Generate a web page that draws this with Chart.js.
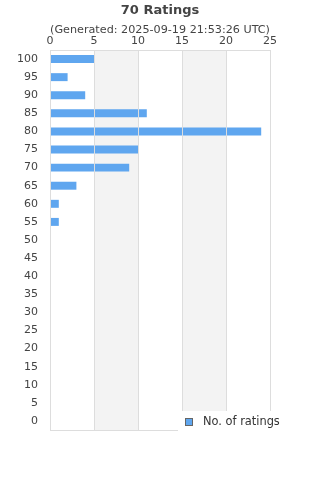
<!DOCTYPE html>
<html><head><meta charset="utf-8">
<script src="https://cdn.jsdelivr.net/npm/chart.js@4/dist/chart.umd.min.js"></script>
<style>html,body{margin:0;padding:0;background:#fff}#wrap{width:320px;height:480px;position:relative}</style>
</head><body><div id="wrap"><canvas id="c" width="320" height="480"></canvas></div>
<script>
const titleText = '70 Ratings';
const subtitleText = '(Generated: 2025-09-19 21:53:26 UTC)';
const categories = ['100','95','90','85','80','75','70','65','60','55','50','45','40','35','30','25','20','15','10','5','0'];
const ratingCounts = [5,2,4,11,24,10,9,3,1,1,0,0,0,0,0,0,0,0,0,0,0];
const seriesName = 'No. of ratings';
const xTicks = [0,5,10,15,20,25];
const bandRanges = [[5,10],[15,20]];

const FONT = 'DejaVu Sans, sans-serif';
const decor = {
  id:'decor',
  beforeDatasetsDraw(chart){
    const {ctx, chartArea:a, scales:{x}} = chart;
    ctx.save();
    ctx.fillStyle = '#f3f3f3';
    bandRanges.forEach(([s,e])=>{
      const x0 = x.getPixelForValue(s), x1 = x.getPixelForValue(e);
      ctx.fillRect(x0, a.top, x1-x0, a.bottom-a.top);
    });
    ctx.restore();
  },
  afterDatasetsDraw(chart){
    const {ctx, chartArea:a, scales:{x}} = chart;
    ctx.save();
    ctx.strokeStyle = '#dddddd'; ctx.lineWidth = 1;
    xTicks.forEach(v=>{
      const px = Math.round(x.getPixelForValue(v))+0.5;
      ctx.beginPath(); ctx.moveTo(px, a.top); ctx.lineTo(px, a.bottom); ctx.stroke();
    });
    ctx.beginPath(); ctx.moveTo(a.left, Math.round(a.top)+0.5); ctx.lineTo(a.right, Math.round(a.top)+0.5); ctx.stroke();
    ctx.beginPath(); ctx.moveTo(a.left, Math.round(a.bottom)+0.5); ctx.lineTo(a.right, Math.round(a.bottom)+0.5); ctx.stroke();
    // title
    ctx.fillStyle = '#444';
    ctx.textAlign = 'center'; ctx.textBaseline = 'middle';
    ctx.font = 'bold 13px ' + FONT;
    ctx.fillText(titleText, 160, 11);
    ctx.font = '11.2px ' + FONT;
    ctx.fillText(subtitleText, 160, 30);
    // legend
    ctx.fillStyle = '#fff';
    ctx.fillRect(178, 411, 142, 20);
    ctx.fillStyle = '#5fa6ef';
    ctx.fillRect(186, 419, 7, 7);
    ctx.strokeStyle = '#666';
    ctx.strokeRect(185.5, 418.5, 7, 7);
    ctx.fillStyle = '#333';
    ctx.textAlign = 'left';
    ctx.font = '11.4px ' + FONT;
    ctx.fillText(seriesName, 203, 422);
    ctx.restore();
  }
};

new Chart(document.getElementById('c'), {
  type:'bar',
  data:{ labels: categories, datasets:[{ label: seriesName, data: ratingCounts, backgroundColor:'#5fa6ef', borderWidth:0, barPercentage:0.44, categoryPercentage:1 }]},
  options:{
    indexAxis:'y', responsive:false, animation:false, devicePixelRatio:1,
    layout:{ padding:{ top:36, right:50, bottom:50, left:0 } },
    plugins:{ legend:{display:false}, title:{display:false}, tooltip:{enabled:false} },
    scales:{
      x:{ position:'top', min:0, max:25,
        afterBuildTicks(s){ s.ticks = xTicks.map(v=>({value:v})); },
        afterFit(s){ s.height = 14; },
        grid:{ display:false, drawTicks:false },
        border:{ display:false },
        ticks:{ color:'#444', font:{family:FONT,size:11}, padding:2, maxRotation:0 } },
      y:{
        afterFit(s){ s.width = 50; },
        grid:{ display:false, drawTicks:false },
        border:{ display:false },
        ticks:{ color:'#444', font:{family:FONT,size:11}, padding:12, autoSkip:false } }
    }
  },
  plugins:[decor]
});
</script></body></html>
